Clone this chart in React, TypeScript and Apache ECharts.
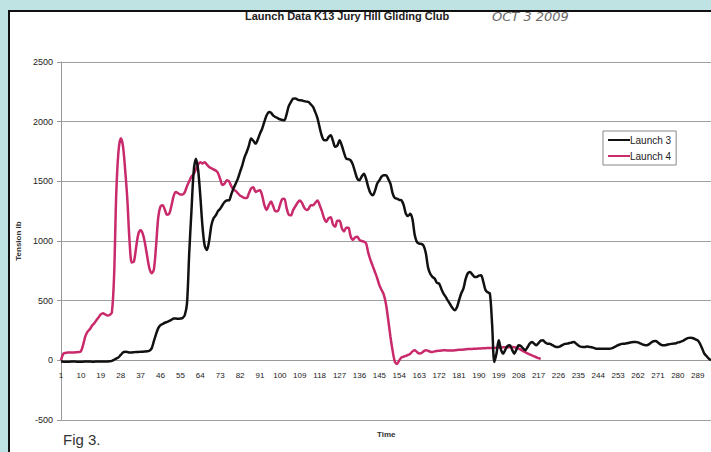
import React, { useEffect, useRef } from "react";
import * as echarts from "echarts";

// Time index 1..295
const timeCategories: string[] = Array.from({ length: 295 }, (_, i) => String(i + 1));

const yTicks = [-500, 0, 500, 1000, 1500, 2000, 2500];

// Launch 3 tension (lb), one value per time step
const launch3: number[] = [
  -10, -11, -12, -12, -11, -10, -10, -11, -12, -12,
  -11, -10, -10, -10, -11, -11, -10, -10, -10, -9,
  -9, -9, -8, -5, 5, 15, 25, 45, 65, 72,
  70, 66, 66, 68, 70, 70, 72, 72, 74, 76,
  80, 100, 160, 220, 270, 295, 305, 315, 322, 330,
  340, 350, 350, 348, 350, 355, 380, 480, 900, 1250,
  1580, 1690, 1600, 1380, 1120, 960, 925, 1000, 1130, 1190,
  1215, 1250, 1270, 1300, 1327, 1340, 1341, 1390, 1439, 1480,
  1523, 1580, 1634, 1700, 1746, 1800, 1858, 1840, 1816, 1850,
  1900, 1942, 2000, 2053, 2081, 2075, 2050, 2039, 2030, 2020,
  2015, 2011, 2060, 2130, 2165, 2193, 2195, 2185, 2179, 2178,
  2172, 2168, 2165, 2145, 2123, 2080, 2030, 1950, 1880, 1845,
  1844, 1870, 1886, 1840, 1790, 1800, 1844, 1800, 1740, 1690,
  1685, 1676, 1640, 1580, 1523, 1510, 1540, 1564, 1520, 1450,
  1400, 1383, 1420, 1480, 1508, 1540, 1550, 1550, 1520, 1480,
  1400, 1360, 1355, 1345, 1341, 1300, 1229, 1210, 1229, 1180,
  1050, 991, 978, 975, 960, 900, 780, 726, 700, 685,
  650, 643, 600, 560, 531, 500, 470, 440, 419, 440,
  500, 560, 600, 680, 730, 740, 720, 700, 698, 710,
  712, 660, 590, 570, 559, 300, -14, 60, 168, 90,
  56, 90, 120, 126, 90, 56, 90, 126, 120, 100,
  84, 110, 140, 154, 140, 126, 145, 165, 168, 150,
  140, 140, 130, 120, 112, 112, 120, 130, 138, 140,
  145, 150, 154, 140, 125, 115, 112, 112, 115, 112,
  110, 104, 98, 98, 98, 98, 98, 98, 98, 100,
  108, 118, 128, 135, 140, 140, 143, 148, 152, 154,
  154, 150, 142, 134, 128, 126, 135, 150, 160, 162,
  150, 135, 126, 126, 130, 135, 138, 140, 142, 150,
  154, 160, 172, 182, 188, 190, 185, 175, 168, 140,
  100, 56, 35, 15, 0,
];

// Launch 4 tension (lb), one value per time step
const launch4: number[] = [
  0, 55, 62, 65, 65, 66, 66, 68, 70, 75,
  130, 200, 240, 260, 290, 310, 335, 360, 385, 395,
  385, 375, 380, 400, 700, 1400, 1750, 1860, 1800, 1600,
  1350, 1000, 820, 830, 950, 1060, 1090, 1060, 980, 870,
  770, 730, 760, 960, 1200, 1290, 1300, 1260, 1220, 1230,
  1300, 1380, 1410, 1400, 1390, 1390, 1410, 1460, 1500, 1540,
  1560, 1600, 1640, 1660, 1650, 1660, 1640, 1620, 1610, 1600,
  1590, 1570, 1520, 1470, 1480, 1510, 1500, 1460, 1430, 1420,
  1400, 1380, 1370, 1360, 1360, 1400, 1440, 1450, 1410, 1420,
  1425, 1380, 1300, 1260, 1300, 1330, 1290, 1250, 1250, 1300,
  1350, 1355, 1280, 1220, 1215, 1260, 1290, 1320, 1340, 1320,
  1280, 1260, 1270, 1300, 1300, 1320, 1340, 1300, 1250, 1190,
  1160, 1190, 1200, 1140, 1120, 1170, 1170, 1110, 1080, 1110,
  1110, 1040, 1010, 1030, 1035, 1010, 1000, 995, 980, 900,
  840, 790, 740, 690, 630, 590, 550, 470, 340, 200,
  80, -10, -30, 0, 25, 30, 38, 45, 55, 75,
  85, 70, 58, 60, 75, 85, 80, 72, 70, 75,
  78, 80, 82, 84, 84, 83, 82, 82, 84, 86,
  88, 88, 90, 92, 94, 95, 96, 97, 98, 99,
  100, 101, 102, 103, 104, 104, 105, 106, 107, 108,
  109, 110, 110, 111, 112, 110, 105, 98, 88, 78,
  68, 58, 50, 42, 34, 26, 18, 12,
];

const FONT = "'Liberation Sans', Arial, sans-serif";

export default function App() {
  const ref = useRef<HTMLDivElement>(null);

  useEffect(() => {
    if (!ref.current) return;
    const chart = echarts.init(ref.current, undefined, { renderer: "svg" });
    const gridTop = 62;
    const gridBottom = 32;
    const plotH = 452 - gridTop - gridBottom;
    const yMin = yTicks[0];
    const yMax = yTicks[yTicks.length - 1];
    const zeroOffset = (plotH * (0 - yMin)) / (yMax - yMin);
    chart.setOption({
      animation: false,
      backgroundColor: "#bee3e2",
      graphic: [
        {
          type: "rect",
          z: -10,
          shape: { x: 9, y: 11, width: 720, height: 460 },
          style: { fill: "#ffffff", stroke: "#111111", lineWidth: 2 },
        },
        {
          type: "text",
          left: 245,
          top: 10,
          style: {
            text: "Launch Data K13 Jury Hill Gliding Club",
            font: `bold 11px ${FONT}`,
            fill: "#222",
          },
        },
        {
          type: "text",
          left: 492,
          top: 10,
          style: {
            text: "OCT 3 2009",
            font: `italic 13px 'DejaVu Sans', sans-serif`,
            fill: "#6a6a6a",
          },
        },
        {
          type: "text",
          left: 377,
          top: 430,
          style: { text: "Time", font: `bold 8px ${FONT}`, fill: "#333" },
        },
        {
          type: "text",
          left: 63,
          top: 432,
          style: { text: "Fig 3.", font: `15px ${FONT}`, fill: "#333" },
        },
      ],
      legend: {
        orient: "vertical",
        left: 603,
        top: 131,
        data: ["Launch 3", "Launch 4"],
        icon: "rect",
        itemWidth: 22,
        itemHeight: 2,
        itemGap: 6,
        padding: [4, 5, 4, 5],
        borderColor: "#888",
        borderWidth: 1,
        backgroundColor: "#fff",
        textStyle: { fontSize: 10, fontFamily: FONT, color: "#222", padding: [0, 0, 0, -5] },
      },
      grid: { left: 61, right: 0, top: gridTop, bottom: gridBottom },
      xAxis: {
        type: "category",
        data: timeCategories,
        boundaryGap: false,
        position: "bottom",
        offset: -zeroOffset,
        axisLine: { onZero: false, lineStyle: { color: "#999", width: 1 } },
        axisTick: { show: false },
        axisLabel: {
          interval: 8,
          fontSize: 8,
          fontFamily: FONT,
          color: "#222",
          margin: 11,
        },
        splitLine: { show: false },
      },
      yAxis: {
        type: "value",
        min: yMin,
        max: yMax,
        interval: 500,
        name: "Tension lb",
        nameLocation: "middle",
        nameGap: 31,
        nameTextStyle: { fontSize: 8, fontWeight: "bold", fontFamily: FONT, color: "#333" },
        axisLine: { show: true, lineStyle: { color: "#999" } },
        axisTick: { show: true, length: 4, lineStyle: { color: "#999" } },
        axisLabel: {
          fontSize: 9,
          fontFamily: FONT,
          color: "#222",
          margin: 8,
          formatter: (v: number) => String(v),
        },
        splitLine: { lineStyle: { color: "#a0a0a0", width: 1 } },
      },
      series: [
        {
          name: "Launch 4",
          type: "line",
          data: launch4,
          showSymbol: false,
          symbol: "none",
          smooth: 0.3,
          z: 3,
          lineStyle: { color: "#c92a6b", width: 2.5 },
          itemStyle: { color: "#c92a6b" },
        },
        {
          name: "Launch 3",
          type: "line",
          data: launch3,
          showSymbol: false,
          symbol: "none",
          smooth: 0.3,
          z: 4,
          lineStyle: { color: "#111111", width: 2.5 },
          itemStyle: { color: "#111111" },
        },
      ],
    });
    return () => chart.dispose();
  }, []);

  return (
    <div
      ref={ref}
      style={{ position: "fixed", left: 0, top: 0, width: 711, height: 452 }}
    />
  );
}
